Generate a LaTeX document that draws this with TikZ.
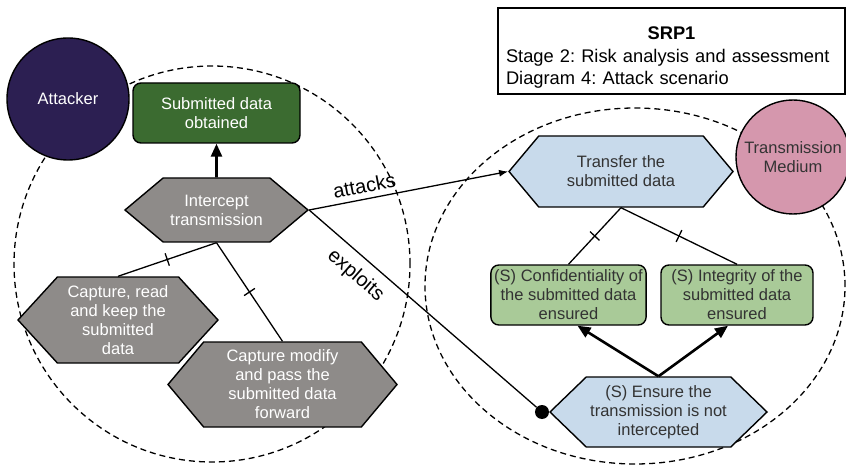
\documentclass[tikz,border=0pt]{standalone}
\usepackage{fontspec}
\setmainfont{Liberation Sans}
\usetikzlibrary{shapes.symbols}
\usetikzlibrary{arrows.meta}
\usetikzlibrary{positioning}
\definecolor{attackerblue}{HTML}{2C1F52}
\definecolor{goalgreen}{HTML}{3B6B30}
\definecolor{softgreen}{HTML}{A9CA98}
\definecolor{softblue}{HTML}{C8DAEB}
\definecolor{threatgray}{HTML}{8E8B89}
\definecolor{mediumpink}{HTML}{D597AD}
\frenchspacing
\newcommand{\diagfont}{\fontsize{16.5}{19}\selectfont}
\newcommand{\labelfont}{\fontsize{20}{22}\selectfont}
\tikzset{
  hexa/.style={signal, signal to=west and east, draw, line width=1.4pt, align=center, inner sep=1pt, font=\diagfont},
  threat/.style={hexa, fill=threatgray, text=white},
  task/.style={hexa, fill=softblue, text=black!80},
  goalbox/.style={draw, rounded corners=8pt, line width=1.4pt, align=center, font=\diagfont},
  actor/.style={circle, draw, line width=1.4pt, align=center, font=\diagfont},
  boundary/.style={dashed, dash pattern=on 6pt off 4pt, line width=1.3pt},
  link/.style={line width=1.3pt},
  contrib/.style={line width=2.6pt, -{Triangle[length=13pt,width=11pt]}},
  crossmark/.style={draw, line width=1.3pt, minimum width=0pt, minimum height=13pt, inner sep=0pt, sloped}
}

\begin{document}
\begin{tikzpicture}[x=1pt, y=-1pt]
\useasboundingbox (0,0) rectangle (846,465);

% boundaries
\draw [boundary] (212,264) circle [x radius=198pt, y radius=198pt];
\draw [boundary] (635,286) circle [x radius=210pt, y radius=178pt];

\node (title) at (671.5,51) [draw, fill=white, line width=1.2pt, minimum width=347pt, minimum height=86pt, text width=331pt, align=left, font=\fontsize{18.3}{22.5}\selectfont] {\centering\rule{0pt}{26pt}\textbf{SRP1}\par\raggedright Stage 2: Risk analysis and assessment\\Diagram 4: Attack scenario};

\node (attacker) at (68,99) [actor, fill=attackerblue, text=white, minimum size=122pt] {Attacker};
\node (medium) at (793,157) [actor, fill=mediumpink, text=black!80, minimum size=114pt, inner sep=0pt] {Transmission\\Medium};

\node (obtained) at (216.5,113) [goalbox, fill=goalgreen, text=white, minimum width=167pt, minimum height=60pt] {Submitted data\\obtained};
\node (intercept) at (216.5,210) [threat, minimum width=183pt, minimum height=64pt, signal pointer angle=80] {Intercept\\transmission};
\node (capread) at (118,320) [threat, minimum width=200pt, minimum height=86pt, signal pointer angle=95] {Capture, read\\and keep the\\submitted\\data};
\node (capmod) at (282.5,384.5) [threat, minimum width=229pt, minimum height=85pt, signal pointer angle=100] {Capture modify\\and pass the\\submitted data\\forward};

\node (transfer) at (621,171.5) [task, minimum width=224pt, minimum height=71pt, signal pointer angle=100] {Transfer the\\submitted data};
\node (confid) at (568.5,295) [goalbox, fill=softgreen, text=black!80, minimum width=151pt, minimum height=60pt] {(S) Confidentiality of\\the submitted data\\ensured};
\node (integ) at (737,295) [goalbox, fill=softgreen, text=black!80, minimum width=152pt, minimum height=60pt] {(S) Integrity of the\\submitted data\\ensured};
\node (ensure) at (658.5,412) [task, minimum width=217pt, minimum height=70pt, signal pointer angle=88] {(S) Ensure the\\transmission is not\\intercepted};
\node (dot) at ([xshift=-7pt]ensure.west) [circle, fill=black, minimum size=14pt, inner sep=0pt] {};

% links
\draw [contrib] (intercept) -- (obtained);
\draw [link] (intercept.south) -- node [crossmark, pos=0.5] {} (capread.north);
\draw [link] (intercept.south) -- node [crossmark, pos=0.5] {} (capmod.north);
\draw [link] (transfer.south) -- node [crossmark, pos=0.5] {} (confid.north);
\draw [link] (transfer.south) -- node [crossmark, pos=0.5] {} (integ.north);
\draw [contrib] (ensure.north) -- ([xshift=9pt]confid.south);
\draw [contrib] (ensure.north) -- ([xshift=-9pt]integ.south);

\draw [link, -{Latex[length=9pt,width=7pt]}] (intercept.east) -- node [pos=0.29, sloped, above=2pt, font=\labelfont] {attacks} (transfer.west);
\draw [link] (intercept.east) -- node [pos=0.26, sloped, below=6pt, font=\labelfont] {exploits} (dot);

\end{tikzpicture}
\end{document}
